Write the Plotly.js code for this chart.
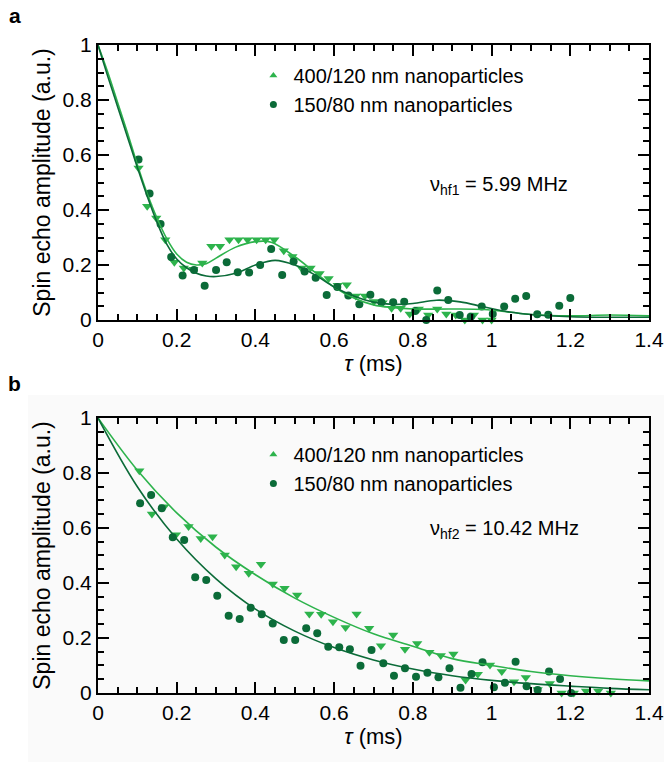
<!DOCTYPE html>
<html>
<head>
<meta charset="utf-8">
<script src="https://cdn.plot.ly/plotly-3.0.1.min.js"></script>
<style>html,body{margin:0;padding:0;background:#fff;}#chart{width:664px;height:762px;}</style>
</head>
<body>
<div id="chart"></div>
<script>
// ---------- Panel a data (nu_hf1 = 5.99 MHz) ----------
const aTriX = [0.103,0.125,0.148,0.171,0.194,0.218,0.242,0.265,0.288,0.31,0.334,0.357,0.38,0.403,0.426,0.448,0.472,0.494,0.517,0.54,0.563,0.586,0.609,0.632,0.655,0.678,0.701,0.723,0.746,0.769,0.792,0.815,0.839,0.862,0.885,0.909,0.932,0.955,0.977,1.0];
const aTriY = [0.553,0.414,0.371,0.292,0.21,0.189,0.185,0.207,0.268,0.268,0.292,0.292,0.292,0.292,0.292,0.292,0.252,0.231,0.189,0.189,0.169,0.151,0.126,0.128,0.087,0.087,0.067,0.063,0.043,0.043,0.022,0.04,0.018,0.04,0.022,0.018,0.0,0.018,0.0,0.0];
const aCirX = [0.103,0.131,0.159,0.186,0.215,0.244,0.271,0.3,0.327,0.355,0.384,0.412,0.44,0.468,0.497,0.525,0.553,0.581,0.608,0.636,0.664,0.692,0.72,0.75,0.778,0.806,0.834,0.862,0.89,0.919,0.947,0.975,1.003,1.032,1.06,1.088,1.116,1.144,1.172,1.2];
const aCirY = [0.584,0.46,0.349,0.229,0.162,0.182,0.125,0.182,0.21,0.174,0.173,0.2,0.258,0.164,0.213,0.176,0.154,0.091,0.12,0.089,0.057,0.092,0.065,0.065,0.066,0.033,0.0,0.107,0.073,0.018,0.012,0.049,0.022,0.049,0.077,0.087,0.021,0.019,0.052,0.08];
const aFitLightX = [0,0.025,0.05,0.075,0.1,0.125,0.15,0.175,0.2,0.225,0.25,0.275,0.3,0.35,0.4,0.44,0.5,0.55,0.6,0.65,0.7,0.75,0.8,0.9,0.98,1.05,1.1,1.2,1.3,1.4];
const aFitLightY = [1,0.9,0.79,0.68,0.565,0.46,0.37,0.295,0.24,0.21,0.2,0.205,0.225,0.265,0.285,0.283,0.23,0.175,0.12,0.08,0.055,0.045,0.04,0.04,0.038,0.028,0.02,0.015,0.018,0.015];
const aFitDarkX = [0,0.025,0.05,0.075,0.1,0.125,0.15,0.175,0.2,0.225,0.25,0.275,0.3,0.35,0.4,0.45,0.5,0.55,0.6,0.65,0.7,0.75,0.8,0.86,0.92,0.98,1.05,1.1,1.2,1.3,1.4];
const aFitDarkY = [1,0.885,0.775,0.665,0.555,0.45,0.355,0.275,0.222,0.19,0.17,0.16,0.158,0.17,0.2,0.217,0.2,0.165,0.12,0.087,0.065,0.057,0.06,0.072,0.066,0.048,0.028,0.02,0.012,0.01,0.01];

// ---------- Panel b data (nu_hf2 = 10.42 MHz) ----------
const bTriX = [0.105,0.137,0.168,0.198,0.23,0.261,0.291,0.322,0.351,0.383,0.414,0.444,0.474,0.506,0.537,0.567,0.597,0.629,0.657,0.689,0.719,0.75,0.78,0.811,0.842,0.871,0.903,0.934,0.965,0.996,1.026,1.057,1.087,1.117,1.148,1.178,1.209,1.24,1.271,1.303];
const bTriY = [0.808,0.651,0.677,0.575,0.605,0.562,0.568,0.502,0.459,0.435,0.468,0.396,0.381,0.356,0.287,0.286,0.259,0.238,0.287,0.235,0.172,0.211,0.159,0.18,0.148,0.136,0.142,0.047,0.068,0.102,0.078,0.041,0.056,0.013,0.035,0.0,0.0,0.007,0.007,0.0];
const bCirX = [0.107,0.135,0.162,0.19,0.219,0.247,0.275,0.303,0.332,0.36,0.388,0.416,0.444,0.472,0.501,0.529,0.557,0.585,0.613,0.64,0.667,0.695,0.725,0.752,0.78,0.808,0.837,0.865,0.893,0.921,0.949,0.977,1.006,1.034,1.061,1.089,1.117,1.146,1.174,1.202];
const bCirY = [0.69,0.72,0.672,0.566,0.556,0.421,0.411,0.354,0.281,0.269,0.31,0.286,0.253,0.193,0.193,0.235,0.217,0.168,0.166,0.159,0.099,0.156,0.108,0.063,0.09,0.059,0.074,0.057,0.09,0.019,0.069,0.112,0.021,0.037,0.114,0.025,0.011,0.078,0.051,0.0];
const bFitLightX = [0,0.1,0.2,0.3,0.4,0.5,0.6,0.7,0.8,0.9,1.0,1.1,1.2,1.3,1.4];
const bFitLightY = [1,0.81,0.655,0.53,0.43,0.345,0.275,0.215,0.17,0.125,0.1,0.078,0.063,0.052,0.044];
const bFitDarkX = [0,0.1,0.2,0.3,0.4,0.5,0.6,0.7,0.8,0.9,1.0,1.1,1.2,1.3,1.4];
const bFitDarkY = [1,0.75,0.56,0.415,0.305,0.225,0.165,0.12,0.087,0.063,0.046,0.034,0.025,0.017,0.012];

const xTickVals = [0,0.2,0.4,0.6,0.8,1,1.2,1.4];
const yTickVals = [0,0.2,0.4,0.6,0.8,1];
const legendLabels = ['400/120 nm nanoparticles','150/80 nm nanoparticles'];
const annoA = 'ν<sub>hf1</sub> = 5.99 MHz';
const annoB = 'ν<sub>hf2</sub> = 10.42 MHz';

const LIGHT = '#2db34c';
const DARK = '#0b6b38';
const FONT = 'Liberation Sans, Arial, sans-serif';

function markers(x, y, sym, color, xa, ya) {
  return {x, y, xaxis: xa, yaxis: ya, type: 'scatter', mode: 'markers', showlegend: false, cliponaxis: false,
    marker: {symbol: sym, size: sym === 'circle' ? 8 : 9, color: color}};
}
function fit(x, y, color, xa, ya) {
  return {x, y, xaxis: xa, yaxis: ya, type: 'scatter', mode: 'lines', showlegend: false,
    line: {shape: 'spline', smoothing: 1, color: color, width: 1.6}};
}
function legendItem(name, sym, color, leg, xa, ya) {
  return {x: [null], y: [null], xaxis: xa, yaxis: ya, type: 'scatter', mode: 'markers', name, legend: leg,
    marker: {symbol: sym, size: 7, color: color}};
}

const traces = [
  markers(aTriX, aTriY, 'triangle-down', LIGHT, 'x2', 'y2'),
  markers(aCirX, aCirY, 'circle', DARK, 'x2', 'y2'),
  fit(aFitLightX, aFitLightY, LIGHT, 'x2', 'y2'),
  fit(aFitDarkX, aFitDarkY, DARK, 'x2', 'y2'),
  legendItem(legendLabels[0], 'triangle-up', LIGHT, 'legend', 'x2', 'y2'),
  legendItem(legendLabels[1], 'circle', DARK, 'legend', 'x2', 'y2'),
  markers(bTriX, bTriY, 'triangle-down', LIGHT, 'x', 'y'),
  markers(bCirX, bCirY, 'circle', DARK, 'x', 'y'),
  fit(bFitLightX, bFitLightY, LIGHT, 'x', 'y'),
  fit(bFitDarkX, bFitDarkY, DARK, 'x', 'y'),
  legendItem(legendLabels[0], 'triangle-up', LIGHT, 'legend2', 'x', 'y'),
  legendItem(legendLabels[1], 'circle', DARK, 'legend2', 'x', 'y')
];

const common = {
  ticks: 'inside', ticklen: 11, tickwidth: 2, tickcolor: '#000',
  showline: true, linewidth: 2, linecolor: '#000', mirror: 'allticks',
  showgrid: false, zeroline: false,
  tickfont: {family: FONT, size: 21, color: '#000'},
  minor: {dtick: 0.05, ticks: 'inside', ticklen: 6, tickwidth: 2, tickcolor: '#000', showgrid: false}
};
function xax(anchor) {
  return Object.assign({}, common, {range: [0, 1.4], tickmode: 'array', tickvals: xTickVals, anchor,
    minor: Object.assign({}, common.minor, {tick0: 0}),
    title: {text: '<i>τ</i> (ms)', font: {family: FONT, size: 22, color: '#000'}, standoff: 0}});
}
function yax(domain, anchor) {
  return Object.assign({}, common, {range: [0, 1], tickmode: 'array', tickvals: yTickVals, domain, anchor,
    minor: Object.assign({}, common.minor, {tick0: 0}),
    title: {text: 'Spin echo amplitude (a.u.)', font: {family: FONT, size: 23, color: '#000'}, standoff: 6}});
}

const layout = {
  width: 664, height: 762,
  margin: {l: 98, r: 15, t: 45, b: 69},
  paper_bgcolor: '#ffffff', plot_bgcolor: 'rgba(0,0,0,0)',
  font: {family: FONT, color: '#000'},
  xaxis: xax('y'),
  yaxis: yax([0, 0.4244], 'x'),
  xaxis2: xax('y2'),
  yaxis2: yax([0.5756, 1], 'x2'),
  legend: {x: 0.282, y: 0.983, xanchor: 'left', yanchor: 'top', bgcolor: 'rgba(0,0,0,0)',
    font: {family: FONT, size: 20, color: '#000'}, itemwidth: 30},
  legend2: {x: 0.282, y: 0.398, xanchor: 'left', yanchor: 'top', bgcolor: 'rgba(0,0,0,0)',
    font: {family: FONT, size: 20, color: '#000'}, itemwidth: 30},
  shapes: [{type: 'rect', xref: 'paper', yref: 'paper', x0: -0.127, x1: 1.03, y0: -0.11, y1: 0.46,
    fillcolor: '#fafafa', line: {width: 0}, layer: 'below'}],
  annotations: [
    {xref: 'x2', yref: 'y2', x: 0.838, y: 0.49, xanchor: 'left', yanchor: 'middle', showarrow: false,
      text: annoA, font: {family: FONT, size: 20, color: '#000'}},
    {xref: 'x', yref: 'y', x: 0.838, y: 0.593, xanchor: 'left', yanchor: 'middle', showarrow: false,
      text: annoB, font: {family: FONT, size: 20, color: '#000'}},
    {xref: 'paper', yref: 'paper', x: -0.151, y: 1.046, xanchor: 'center', yanchor: 'middle', showarrow: false,
      text: '<b>a</b>', font: {family: FONT, size: 21, color: '#000'}},
    {xref: 'paper', yref: 'paper', x: -0.151, y: 0.478, xanchor: 'center', yanchor: 'middle', showarrow: false,
      text: '<b>b</b>', font: {family: FONT, size: 21, color: '#000'}}
  ]
};

Plotly.newPlot('chart', traces, layout, {displayModeBar: false, staticPlot: true});
</script>
</body>
</html>
